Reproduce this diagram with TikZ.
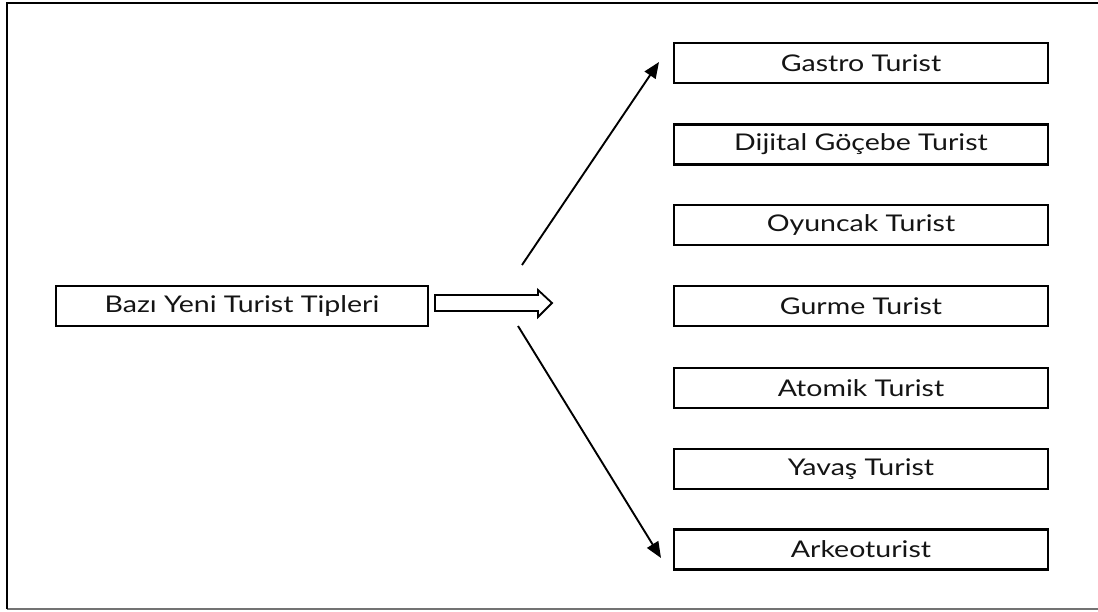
\documentclass[tikz,border=0pt]{standalone}
\usepackage{fontspec}
\setmainfont{Lato}[FakeStretch=1.24]
\usetikzlibrary{arrows.meta}
\tikzset{
  box/.style={draw=black, line width=2.3pt, minimum width=374pt, minimum height=40pt, inner sep=0pt, font=\fontsize{23}{26}\selectfont, text=black!92},
  conn/.style={draw=black, line width=1.9pt, -{Triangle[length=16pt,width=13pt]}},
  hollow/.style={draw=black, line width=1.8pt, fill=white, line join=miter}
}
\begin{document}
\begin{tikzpicture}[x=1pt,y=-1pt]
\useasboundingbox (0,0) rectangle (1098,612);
% frame
\draw[black!55, line width=2pt] (7,609) -- (1098,609);
\draw[black, line width=2pt] (7,609) -- (7,3) -- (1098,3);
% main box
\node[box, minimum width=372pt] (main) at (242,306) {Bazı Yeni Turist Tipleri};
% right boxes
\node[box] (b1) at (861,63) {Gastro Turist};
\node[box] (b2) at (861,144.5) {Dijital Göçebe Turist};
\node[box] (b3) at (861,225) {Oyuncak Turist};
\node[box] (b4) at (861,306) {Gurme Turist};
\node[box] (b5) at (861,388) {Atomik Turist};
\node[box] (b6) at (861,469) {Yavaş Turist};
\node[box] (b7) at (861,549.5) {Arkeoturist};
% hollow arrow
\draw[hollow] (435,295) -- (538,295) -- (538,290) -- (552,303) -- (538,317) -- (538,311) -- (435,311) -- cycle;
% connectors
\coordinate (u0) at (522,265);
\coordinate (u1) at (659,62);
\coordinate (d0) at (518,326);
\coordinate (d1) at (661,558);
\draw[conn] (u0) -- (u1);
\draw[conn] (d0) -- (d1);
\end{tikzpicture}
\end{document}
